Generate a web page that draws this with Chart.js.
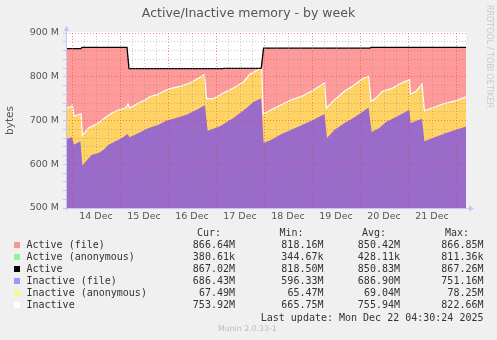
<!DOCTYPE html>
<html>
<head>
<meta charset="utf-8">
<script src="https://cdn.jsdelivr.net/npm/chart.js@4/dist/chart.umd.min.js"></script>
<style>
html,body{margin:0;padding:0;background:#f0f0f0;}
#wrap{position:relative;width:497px;height:340px;overflow:hidden;background:#f0f0f0;}
#c{position:absolute;left:0;top:0;}
.t{position:absolute;white-space:pre;}
.mono{font-family:"DejaVu Sans Mono",monospace;font-size:10px;line-height:12px;color:#333;}
.sw{position:absolute;width:6px;height:6px;}
#title{left:0;width:497px;text-align:center;top:5px;font-family:"DejaVu Sans",sans-serif;font-size:12.5px;line-height:15px;color:#555;}
#rrd{left:483px;top:5px;writing-mode:vertical-rl;font-family:"DejaVu Sans",sans-serif;font-size:8px;color:#cacaca;line-height:12px;}
#munin{left:218px;top:324px;font-family:"DejaVu Sans",sans-serif;font-size:7.8px;color:#bbb;line-height:10px;}
</style>
</head>
<body>
<div id="wrap">
  <canvas id="c" width="497" height="340"></canvas>
  <div class="t" id="title">Active/Inactive memory - by week</div>
  <div class="t" id="rrd">RRDTOOL / TOBI OETIKER</div>
  <div id="legend"></div>
  <div class="t" id="munin">Munin 2.0.33-1</div>
</div>
<script>
// ---- data (hours since 13 Dec 00:00, values in MB) ----
const activeHours      = [21, 28.5, 29, 51.5, 52.5, 99.5, 100, 118.6, 119.8, 173, 173.5, 221];
const activeValues     = [864.3, 864.3, 867.1, 867.1, 818.5, 818.5, 819.3, 819.3, 865.6, 865.6, 867.0, 867.0];
const activeFileValues = [863.9, 863.9, 866.7, 866.7, 818.1, 818.1, 818.9, 818.9, 865.2, 865.2, 866.6, 866.6];

const inactiveHours  = [21, 23.5, 24.2, 25, 28.5, 29.2, 32.3, 35.7, 38.2, 41.5, 44, 47.3, 50.7, 52, 52.8,
  57.3, 60.7, 63.2, 66.5, 69.8, 73, 78, 83, 88, 90.2, 91.3, 94.7, 99.7, 104.7, 109.7, 113, 118, 118.8, 119.6,
  123.7, 128.7, 133.7, 138.7, 143.7, 150.3, 151.2, 155.3, 160.3, 165.3, 169.3, 172.3, 173.5, 176, 179.3,
  184.3, 187.7, 192.7, 193.3, 196, 199, 200.2, 204.3, 209.3, 216, 221];
const inactiveValues = [728.5, 731, 734.5, 709.6, 715, 666, 682.9, 690.5, 698, 709.6, 717, 724.7, 728.6, 737.7, 728.6,
  740, 747.5, 755, 759, 766.7, 772.7, 778, 785.7, 798.7, 804.8, 749.8, 749.8, 762.9, 774.3, 788, 806.3, 818.5, 822.6, 714.9,
  724.7, 736, 747.5, 755, 766.7, 785.7, 728.6, 747.5, 766.7, 781.8, 795.5, 801, 743.8, 751.4, 766.7,
  774, 783.4, 793.3, 760.6, 766.7, 783.4, 722.4, 728.6, 737.7, 745.3, 753.9];

const inactiveFileHours  = [21, 24, 25, 28.2, 29.2, 31.5, 34, 37.3, 39.8, 42.3, 45.7, 49, 51.8, 52.8,
  57.3, 62.3, 67.3, 71, 74.7, 81.3, 88, 90.5, 91.8, 98, 104.7, 111.3, 114.7, 118.6, 119.8,
  123.7, 128.7, 133.7, 138.7, 143.7, 150.3, 151.5, 155.3, 160.3, 165.3, 172.3, 173.8, 177.7, 181,
  187.7, 192.7, 193.3, 199, 200.2, 204.3, 211, 216, 221];
const inactiveFileValues = [657.8, 661.5, 644.7, 652.4, 596.5, 610, 621.8, 625.7, 633, 644.7, 652.4, 660, 669, 661.5,
  671.4, 682.9, 690.5, 699.5, 704, 713.3, 728.6, 734.7, 676.7, 686.7, 705.7, 728.6, 742.3, 751, 648.6,
  656, 669, 679, 689, 699.5, 714.9, 660, 679, 694.3, 707.3, 730, 673.7, 682.9, 696.6,
  711.9, 724.7, 694.3, 704, 652.4, 660, 671.4, 679, 686.4];

const dayLabels = ['14 Dec','15 Dec','16 Dec','17 Dec','18 Dec','19 Dec','20 Dec','21 Dec'];
const yTickLabels = ['500 M','600 M','700 M','800 M','900 M'];

const legendNames = ['Active (file)','Active (anonymous)','Active','Inactive (file)','Inactive (anonymous)','Inactive'];
const legendColors = ['#f49a9a','#98f098','#000000','#9a9af8','#f8f88c','#ffffff'];
const curValues = ['866.64M','380.61k','867.02M','686.43M','67.49M','753.92M'];
const minValues = ['818.16M','344.67k','818.50M','596.33M','65.47M','665.75M'];
const avgValues = ['850.42M','428.11k','850.83M','686.90M','69.04M','755.94M'];
const maxValues = ['866.85M','811.36k','867.26M','751.16M','78.25M','822.66M'];
const lastUpdate = 'Last update: Mon Dec 22 04:30:24 2025';

// ---- legend table ----
(function(){
  const L = document.getElementById('legend');
  let h = '';
  const hdr = [['Cur:',221],['Min:',303.5],['Avg:',386],['Max:',469]];
  hdr.forEach(([t,r])=>{ h += `<div class="t mono" style="right:${497-r}px;top:227px">${t}</div>`; });
  const cols = [[curValues,235],[minValues,323.5],[avgValues,400],[maxValues,483.5]];
  legendNames.forEach((n,i)=>{
    const top = 239 + 12*i;
    h += `<div class="sw" style="left:14px;top:${top+3}px;background:${legendColors[i]}"></div>`;
    h += `<div class="t mono" style="left:26.5px;top:${top}px">${n}</div>`;
    cols.forEach(([arr,r])=>{ h += `<div class="t mono" style="right:${497-r}px;top:${top}px">${arr[i]}</div>`; });
  });
  h += `<div class="t mono" style="right:${497-483.5}px;top:312px">${lastUpdate}</div>`;
  L.innerHTML = h;
})();

// ---- chart ----
const pts = (xs, ys) => xs.map((x,i)=>({x:x, y:ys[i]}));
const xTicks = []; for (let v = 24; v <= 216; v += 6) xTicks.push(v);
const yTicks = []; for (let v = 500; v <= 900; v += 20) yTicks.push(v);

const plotBg = {
  id:'plotBg',
  beforeDraw(chart){
    const {ctx, chartArea:a} = chart;
    ctx.save(); ctx.fillStyle = '#ffffff';
    ctx.fillRect(a.left, a.top - 1, a.right - a.left, a.bottom - a.top + 1);
    ctx.restore();
  },
  afterDraw(chart){
    const {ctx, chartArea:a} = chart;
    ctx.save();
    ctx.strokeStyle = '#c4c8ee'; ctx.fillStyle = '#c4c8ee'; ctx.lineWidth = 1;
    ctx.beginPath();
    ctx.moveTo(a.left + 0.5, a.bottom + 3); ctx.lineTo(a.left + 0.5, a.top - 4);
    ctx.moveTo(a.left - 3, a.bottom + 0.5); ctx.lineTo(a.right + 4, a.bottom + 0.5);
    ctx.stroke();
    ctx.beginPath();
    ctx.moveTo(a.left - 2.5, a.top - 2); ctx.lineTo(a.left + 3.5, a.top - 2); ctx.lineTo(a.left + 0.5, a.top - 7); ctx.closePath(); ctx.fill();
    ctx.beginPath();
    ctx.moveTo(a.right + 3, a.bottom - 2.5); ctx.lineTo(a.right + 3, a.bottom + 3.5); ctx.lineTo(a.right + 8, a.bottom + 0.5); ctx.closePath(); ctx.fill();
    ctx.restore();
  }
};

new Chart(document.getElementById('c'), {
  type:'line',
  data:{ datasets:[
    { label:'Active (file)', data:pts(activeHours, activeFileValues), fill:'start',
      backgroundColor:'#ff9a9a', borderColor:'rgba(0,0,0,0)', borderWidth:0, order:5 },
    { label:'Inactive', data:pts(inactiveHours, inactiveValues), fill:'start',
      backgroundColor:'#ffd464', borderColor:'#ffffff', borderWidth:1.2, order:4 },
    { label:'Inactive (file)', data:pts(inactiveFileHours, inactiveFileValues), fill:'start',
      backgroundColor:'#9a6bcb', borderColor:'rgba(0,0,0,0)', borderWidth:0, order:3 },
    { label:'Active', data:pts(activeHours, activeValues), fill:false,
      borderColor:'#000000', borderWidth:1.3, order:1 }
  ]},
  options:{
    responsive:false, animation:false, devicePixelRatio:1,
    layout:{ padding:{ top:33, right:31, bottom:110, left:0 } },
    plugins:{ legend:{display:false}, tooltip:{enabled:false}, title:{display:false} },
    elements:{ point:{radius:0}, line:{tension:0} },
    scales:{
      x:{
        type:'linear', min:21, max:221,
        afterBuildTicks:s=>{ s.ticks = xTicks.map(v=>({value:v})); },
        afterFit:s=>{ s.height = 22; },
        ticks:{ autoSkip:false, maxRotation:0, minRotation:0, padding:3, color:'#555',
          font:{family:'DejaVu Sans', size:9.5},
          callback:v=> (v % 24 === 12) ? dayLabels[(v - 36) / 24] : '' },
        grid:{ z:1, drawTicks:false, lineWidth:1,
          color:c=> (c.tick && c.tick.value % 24 === 0) ? 'rgba(235,60,60,0.55)' : 'rgba(140,140,140,0.45)' },
        border:{ display:false, dash:[1,2] }
      },
      y:{
        type:'linear', min:500, max:900,
        afterBuildTicks:s=>{ s.ticks = yTicks.map(v=>({value:v})); },
        afterFit:s=>{ s.width = 66; },
        ticks:{ autoSkip:false, padding:4, color:'#555', font:{family:'DejaVu Sans', size:9.5},
          callback:v=> (v % 100 === 0) ? yTickLabels[(v - 500) / 100] : '' },
        grid:{ z:1, drawTicks:true, tickLength:3, lineWidth:1,
          color:c=> (c.tick && c.tick.value % 100 === 0) ? 'rgba(235,60,60,0.55)' : 'rgba(140,140,140,0.45)',
          tickColor:'#c4c8ee' },
        border:{ display:false, dash:[1,2] },
        title:{ display:true, text:'bytes', color:'#555', font:{family:'DejaVu Sans', size:10.5}, padding:{top:4, bottom:0} }
      }
    }
  },
  plugins:[plotBg]
});
</script>
</body>
</html>
